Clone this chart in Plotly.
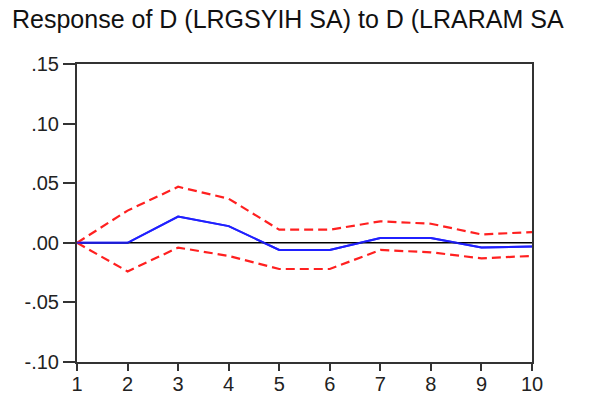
import plotly.graph_objects as go

periods = [1, 2, 3, 4, 5, 6, 7, 8, 9, 10]
response = [0.0, 0.0, 0.022, 0.014, -0.006, -0.006, 0.004, 0.004, -0.004, -0.003]
upper = [0.0, 0.027, 0.047, 0.037, 0.011, 0.011, 0.018, 0.016, 0.007, 0.009]
lower = [0.0, -0.024, -0.004, -0.011, -0.022, -0.022, -0.006, -0.008, -0.013, -0.011]
y_ticks = [-0.10, -0.05, 0.0, 0.05, 0.10, 0.15]
y_labels = ["-.10", "-.05", ".00", ".05", ".10", ".15"]
title_text = "Response of D (LRGSYIH SA) to D (LRARAM SA"

W, H = 581, 389  # page body has an 8px margin

fig = go.Figure()
fig.add_trace(go.Scatter(x=periods, y=response, mode="lines",
                         line=dict(color="#2020ff", width=2)))
fig.add_trace(go.Scatter(x=periods, y=[0] * len(periods), mode="lines",
                         line=dict(color="black", width=1.5), hoverinfo="skip"))
fig.add_trace(go.Scatter(x=periods, y=upper, mode="lines",
                         line=dict(color="#ff2020", width=2.2, dash="9px,5px")))
fig.add_trace(go.Scatter(x=periods, y=lower, mode="lines",
                         line=dict(color="#ff2020", width=2.2, dash="9px,5px")))
fig.add_trace(go.Scatter(x=periods, y=response, mode="lines",
                         line=dict(color="#2020ff", width=2), opacity=0.85))

fig.update_layout(
    width=W, height=H,
    margin=dict(l=69, r=57, t=56, b=35),
    paper_bgcolor="white", plot_bgcolor="white",
    showlegend=False,
    font=dict(family="Liberation Sans, Arial, sans-serif", color="#222", size=20),
    title=dict(text=title_text, x=4 / W, xanchor="left", y=1 - 11.5 / H, yanchor="middle",
               font=dict(size=25, color="#111")),
)
fig.update_xaxes(range=[1, 10], tickvals=periods, ticks="outside", ticklen=7, tickwidth=2,
                 tickcolor="#333", showline=True, linecolor="#333", linewidth=2, mirror=True,
                 showgrid=False, zeroline=False, tickfont=dict(size=20), automargin=False,
                 ticklabelstandoff=-4)
fig.update_yaxes(range=[-0.10, 0.15], tickvals=y_ticks, ticktext=y_labels, ticks="outside",
                 ticklen=12, tickwidth=2, tickcolor="#333", showline=True, linecolor="#333",
                 linewidth=2, mirror=True, showgrid=False, zeroline=False,
                 tickfont=dict(size=20), automargin=False)

fig.write_html("out.html")
